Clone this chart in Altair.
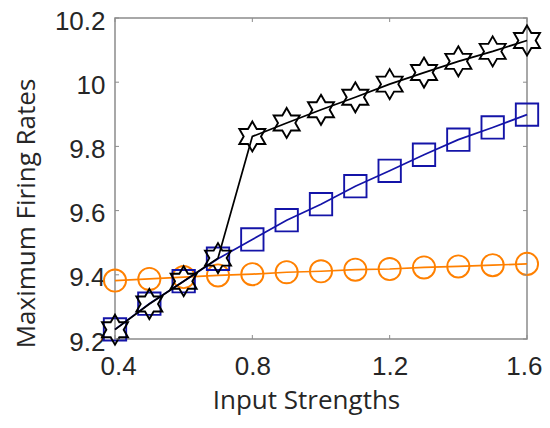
import altair as alt
import pandas as pd

x_vals = [0.4, 0.5, 0.6, 0.7, 0.8, 0.9, 1.0, 1.1, 1.2, 1.3, 1.4, 1.5, 1.6]
star_vals = [9.229, 9.309, 9.38, 9.452, 9.831, 9.873, 9.914, 9.953, 9.994, 10.03, 10.065, 10.096, 10.13]
square_vals = [9.23, 9.31, 9.38, 9.45, 9.51, 9.57, 9.62, 9.676, 9.724, 9.774, 9.821, 9.859, 9.899]
circle_vals = [9.382, 9.387, 9.393, 9.398, 9.402, 9.408, 9.411, 9.416, 9.418, 9.423, 9.426, 9.43, 9.434]
x_ticks = [0.4, 0.8, 1.2, 1.6]
y_ticks = [9.2, 9.4, 9.6, 9.8, 10.0, 10.2]

HEX = ("M0,-1L0.2887,-0.5L0.866,-0.5L0.577,0L0.866,0.5L0.2887,0.5L0,1"
       "L-0.2887,0.5L-0.866,0.5L-0.577,0L-0.866,-0.5L-0.2887,-0.5Z")

df_star = pd.DataFrame({"x": x_vals, "y": star_vals})
df_sq = pd.DataFrame({"x": x_vals, "y": square_vals})
df_ci = pd.DataFrame({"x": x_vals, "y": circle_vals})
df_xt = pd.DataFrame({"x": x_ticks})
df_yt = pd.DataFrame({"y": y_ticks})

W, H = 412, 321
xs = alt.Scale(domain=[0.4, 1.6], nice=False, zero=False)
ys = alt.Scale(domain=[9.2, 10.2], nice=False, zero=False)

X = alt.X("x:Q", scale=xs, axis=alt.Axis(values=x_ticks, format="~g", title="Input Strengths",
                                          grid=False, domain=False, ticks=False,
                                          labelFlush=True, labelFlushOffset=15,
                                          labelFont="Liberation Sans", labelFontSize=26, labelColor="#262626",
                                          labelPadding=14, titleFont="Open Sans", titleFontSize=26,
                                          titleFontWeight="normal", titleColor="#262626",
                                          titleX=191, titleY=69, titleAlign="center", titleBaseline="alphabetic",
                                          titleAnchor="start"))
Y = alt.Y("y:Q", scale=ys, axis=alt.Axis(values=y_ticks, format="~g", title="Maximum Firing Rates",
                                          grid=False, domain=False, ticks=False, labelFlush=False,
                                          labelFont="Liberation Sans", labelFontSize=26, labelColor="#262626",
                                          labelPadding=10, labelOffset=3, titleFont="Open Sans", titleFontSize=26,
                                          titleFontWeight="normal", titleColor="#262626",
                                          titleX=-89, titleY=195, titleAlign="center", titleBaseline="middle",
                                          titleAnchor="start", titleAngle=270))

def series(df, color, shape, size):
    line = alt.Chart(df).mark_line(color=color, strokeWidth=1.7, clip=False).encode(x=X, y=Y)
    pts = alt.Chart(df).mark_point(shape=shape, size=size, filled=False, color=color,
                                   strokeWidth=1.9, opacity=1, clip=False).encode(x=X, y=Y)
    return line + pts

frame_color = "#8c8c8c"
xt_bot = alt.Chart(df_xt).mark_rule(color=frame_color, strokeWidth=1).encode(
    x=X, y=alt.value(H), y2=alt.value(H - 4))
xt_top = alt.Chart(df_xt).mark_rule(color=frame_color, strokeWidth=1).encode(
    x=X, y=alt.value(0), y2=alt.value(4))
yt_l = alt.Chart(df_yt).mark_rule(color=frame_color, strokeWidth=1).encode(
    y=Y, x=alt.value(0), x2=alt.value(4))
yt_r = alt.Chart(df_yt).mark_rule(color=frame_color, strokeWidth=1).encode(
    y=Y, x=alt.value(W), x2=alt.value(W - 4))

chart = alt.layer(
    series(df_ci, "#FF8000", "circle", 490),
    series(df_sq, "#1414A8", "square", 500),
    series(df_star, "#000000", HEX, 900),
    xt_bot, xt_top, yt_l, yt_r,
).properties(
    width=W, height=H,
    autosize=alt.AutoSizeParams(type="none"),
    padding={"left": 107, "top": 10, "right": 15, "bottom": 77},
    background="white",
).configure_view(stroke=frame_color, strokeWidth=1.5)

chart.save("out.html", embed_options={"renderer": "svg", "actions": False})
